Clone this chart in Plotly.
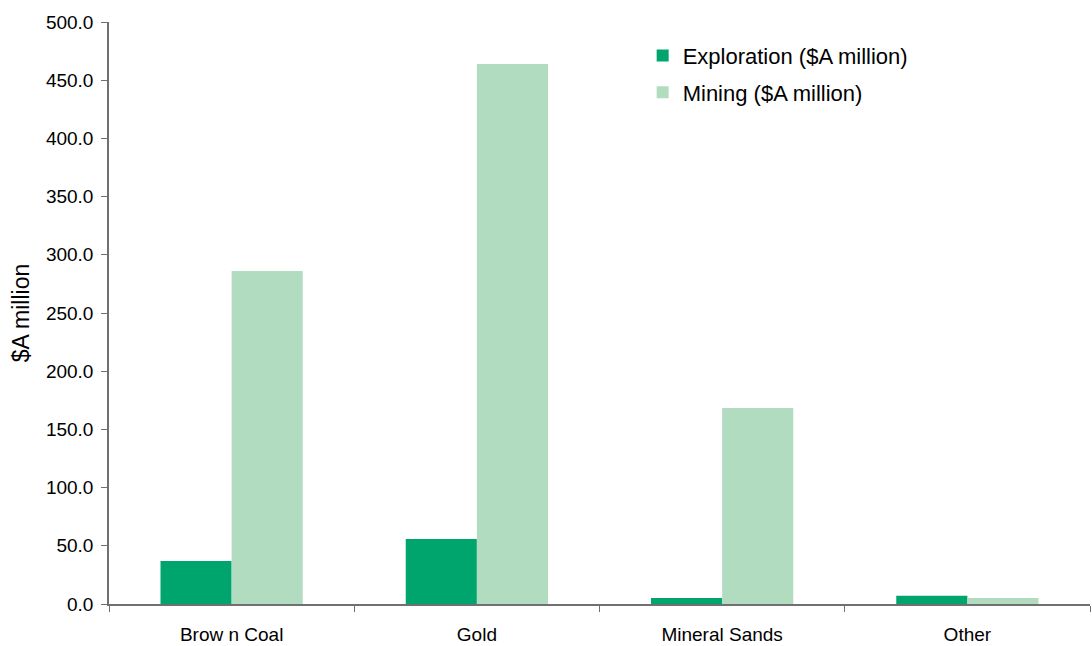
import plotly.graph_objects as go

categories = ["Brow n Coal", "Gold", "Mineral Sands", "Other"]
exploration = [36.9, 55.8, 5.2, 7.1]
mining = [286.1, 464.0, 168.4, 5.1]
tick_vals = [0, 50, 100, 150, 200, 250, 300, 350, 400, 450, 500]

fig = go.Figure()
fig.add_trace(go.Bar(x=categories, y=exploration, name="Exploration ($A million)",
                     marker=dict(color="#00A56E", line=dict(width=0)), legendgroup="a"))
fig.add_trace(go.Bar(x=categories, y=mining, name="Mining ($A million)",
                     marker=dict(color="#B2DCC0", line=dict(width=0)), legendgroup="b"))

fig.update_layout(
    width=1092, height=646,
    margin=dict(l=109, r=2, t=22, b=42),
    paper_bgcolor="white", plot_bgcolor="white",
    font=dict(family="Liberation Sans, Arial, sans-serif", size=19, color="#000000"),
    barmode="group", bargap=0.42, bargroupgap=0,
    showlegend=True,
    legend=dict(x=0.544, y=0.978, xanchor="left", yanchor="top",
                font=dict(size=22), bgcolor="rgba(0,0,0,0)",
                traceorder="grouped", tracegroupgap=5, itemwidth=30),
    xaxis=dict(type="category", showline=True, linecolor="#707070", linewidth=1.5,
               ticks="outside", tickson="boundaries", ticklen=6, tickcolor="#707070",
               showgrid=False, tickfont=dict(size=19), ticklabelstandoff=12),
    yaxis=dict(range=[0, 500], tickvals=tick_vals, tickformat=".1f",
               showline=True, linecolor="#707070", linewidth=1.5,
               ticks="outside", ticklen=6, tickcolor="#707070",
               showgrid=False, zeroline=False, tickfont=dict(size=19),
               ticklabelstandoff=4,
               title=dict(text="$A million", font=dict(size=23), standoff=10)),
)
fig.write_html("out.html")
